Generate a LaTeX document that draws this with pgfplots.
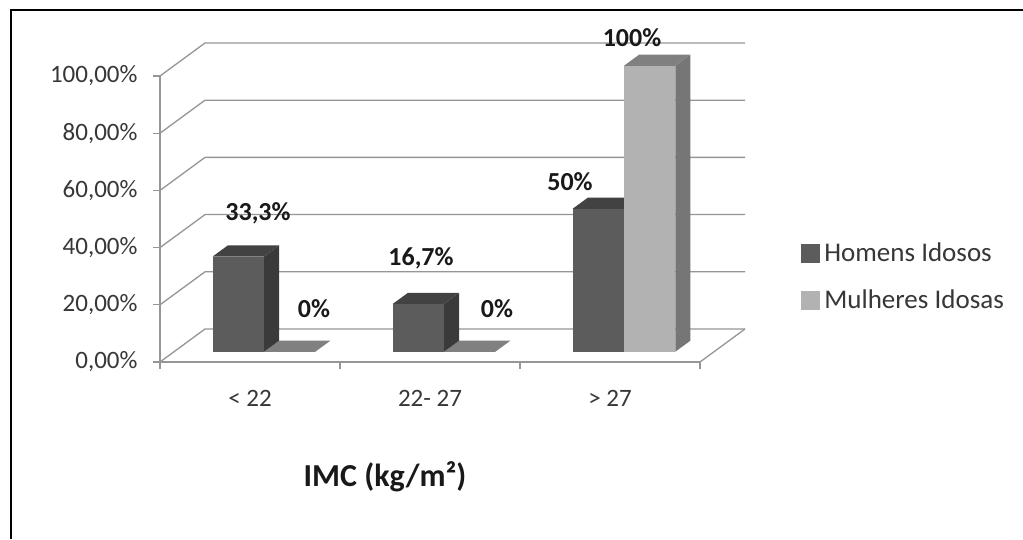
\documentclass[border=0pt]{standalone}
\usepackage{fontspec}
\setmainfont{Carlito}
\usepackage{pgfplots}
\pgfplotsset{compat=1.18}
\definecolor{gridc}{RGB}{150,150,150}
\definecolor{hfront}{RGB}{92,92,92}
\definecolor{hside}{RGB}{58,58,58}
\definecolor{htop}{RGB}{66,66,66}
\definecolor{mfront}{RGB}{178,178,178}
\definecolor{mside}{RGB}{118,118,118}
\definecolor{mtop}{RGB}{128,128,128}
\definecolor{txt}{RGB}{55,55,55}
\begin{document}
\begin{tikzpicture}
\path[use as bounding box] (0,0) rectangle (1023pt,539pt);
\fill[white] (0,0) rectangle (1023pt,539pt);
\draw[line width=1.6pt] (10.8pt,0) -- (10.8pt,528.8pt) -- (1023pt,528.8pt);

% 3D walls and bars
\begin{axis}[
  anchor=origin, at={(160pt,177pt)},
  x={(180pt,0pt)}, y={(45pt,33pt)}, z={(0pt,2.86pt)},
  xmin=0,xmax=3,ymin=0,ymax=1,zmin=0,zmax=100,
  hide axis, clip=false,
  every axis plot/.append style={mark=none},
]
% back wall gridlines
\addplot3[gridc, line width=1.3pt] coordinates {(0,0,0) (0,1,0) (3,1,0)};
\addplot3[gridc, line width=1.3pt] coordinates {(0,0,20) (0,1,20) (3,1,20)};
\addplot3[gridc, line width=1.3pt] coordinates {(0,0,40) (0,1,40) (3,1,40)};
\addplot3[gridc, line width=1.3pt] coordinates {(0,0,60) (0,1,60) (3,1,60)};
\addplot3[gridc, line width=1.3pt] coordinates {(0,0,80) (0,1,80) (3,1,80)};
\addplot3[gridc, line width=1.3pt] coordinates {(0,0,100) (0,1,100) (3,1,100)};
% floor right edge
\addplot3[gridc, line width=1.3pt] coordinates {(3,0,0) (3,1,0)};

% < 22 : Homens 33.3, Mulheres 0
\addplot3[fill=mtop, draw=none] coordinates {(0.5,0.31,0) (0.785,0.31,0) (0.785,0.645,0) (0.5,0.645,0)};
\addplot3[fill=hside, draw=none] coordinates {(0.5,0.31,0) (0.5,0.645,0) (0.5,0.645,33.3) (0.5,0.31,33.3)};
\addplot3[fill=htop, draw=none] coordinates {(0.215,0.31,33.3) (0.5,0.31,33.3) (0.5,0.645,33.3) (0.215,0.645,33.3)};
\addplot3[fill=hfront, draw=none] coordinates {(0.215,0.31,0) (0.5,0.31,0) (0.5,0.31,33.3) (0.215,0.31,33.3)};

% 22-27 : Homens 16.7, Mulheres 0
\addplot3[fill=mtop, draw=none] coordinates {(1.5,0.31,0) (1.785,0.31,0) (1.785,0.645,0) (1.5,0.645,0)};
\addplot3[fill=hside, draw=none] coordinates {(1.5,0.31,0) (1.5,0.645,0) (1.5,0.645,16.7) (1.5,0.31,16.7)};
\addplot3[fill=htop, draw=none] coordinates {(1.215,0.31,16.7) (1.5,0.31,16.7) (1.5,0.645,16.7) (1.215,0.645,16.7)};
\addplot3[fill=hfront, draw=none] coordinates {(1.215,0.31,0) (1.5,0.31,0) (1.5,0.31,16.7) (1.215,0.31,16.7)};

% > 27 : Homens 50, Mulheres 100
\addplot3[fill=hside, draw=none] coordinates {(2.5,0.31,0) (2.5,0.645,0) (2.5,0.645,50) (2.5,0.31,50)};
\addplot3[fill=htop, draw=none] coordinates {(2.215,0.31,50) (2.5,0.31,50) (2.5,0.645,50) (2.215,0.645,50)};
\addplot3[fill=hfront, draw=none] coordinates {(2.215,0.31,0) (2.5,0.31,0) (2.5,0.31,50) (2.215,0.31,50)};
\addplot3[fill=mside, draw=none] coordinates {(2.785,0.31,0) (2.785,0.645,0) (2.785,0.645,100) (2.785,0.31,100)};
\addplot3[fill=mtop, draw=none] coordinates {(2.5,0.31,100) (2.785,0.31,100) (2.785,0.645,100) (2.5,0.645,100)};
\addplot3[fill=mfront, draw=none] coordinates {(2.5,0.31,0) (2.785,0.31,0) (2.785,0.31,100) (2.5,0.31,100)};
\end{axis}

% front axis with ticks and legend
\begin{axis}[
  anchor=origin, at={(160pt,177pt)},
  x=180pt, y=2.86pt,
  xmin=0,xmax=3,ymin=0,ymax=100,
  axis x line*=bottom, axis y line*=left,
  axis line style={gridc, line width=1.3pt},
  tick style={gridc, line width=1.3pt},
  tick align=outside,
  major tick length=7pt, minor tick length=7pt,
  ytick={0,20,40,60,80,100},
  yticklabels={{0,00\%},{20,00\%},{40,00\%},{60,00\%},{80,00\%},{100,00\%}},
  xtick={0.5,1.5,2.5},
  xticklabels={{< 22},{22- 27},{> 27}},
  minor xtick={0,1,2,3},
  major x tick style={draw=none},
  ticklabel style={font=\fontsize{25}{30}\selectfont, text=txt},
  yticklabel style={xshift=-12pt},
  xticklabel style={yshift=-18pt},
  legend style={at={(1.181,0.299)}, anchor=west, draw=none, fill=none,
    font=\fontsize{27}{31}\selectfont, text=txt, row sep=23pt},
  legend cell align=left,
]
\addlegendimage{legend image code/.code={\fill[hfront] (0pt,-9pt) rectangle (18pt,9pt); \path (21pt,0pt);}}
\addlegendentry{Homens Idosos}
\addlegendimage{legend image code/.code={\fill[mfront] (0pt,-9pt) rectangle (18pt,9pt); \path (21pt,0pt);}}
\addlegendentry{Mulheres Idosas}
\end{axis}

% data labels
\begin{scope}[every node/.style={font=\bfseries\fontsize{26}{30}\selectfont, text=black!90}]
\node at (258pt,326pt) {33,3\%};
\node at (314pt,230pt) {0\%};
\node at (421pt,281pt) {16,7\%};
\node at (497pt,230pt) {0\%};
\node at (570pt,357pt) {50\%};
\node at (632pt,501pt) {100\%};
\end{scope}
\node[font=\bfseries\fontsize{32}{38}\selectfont, text=black!90] at (385pt,62pt) {IMC (kg/m²)};
\end{tikzpicture}
\end{document}
